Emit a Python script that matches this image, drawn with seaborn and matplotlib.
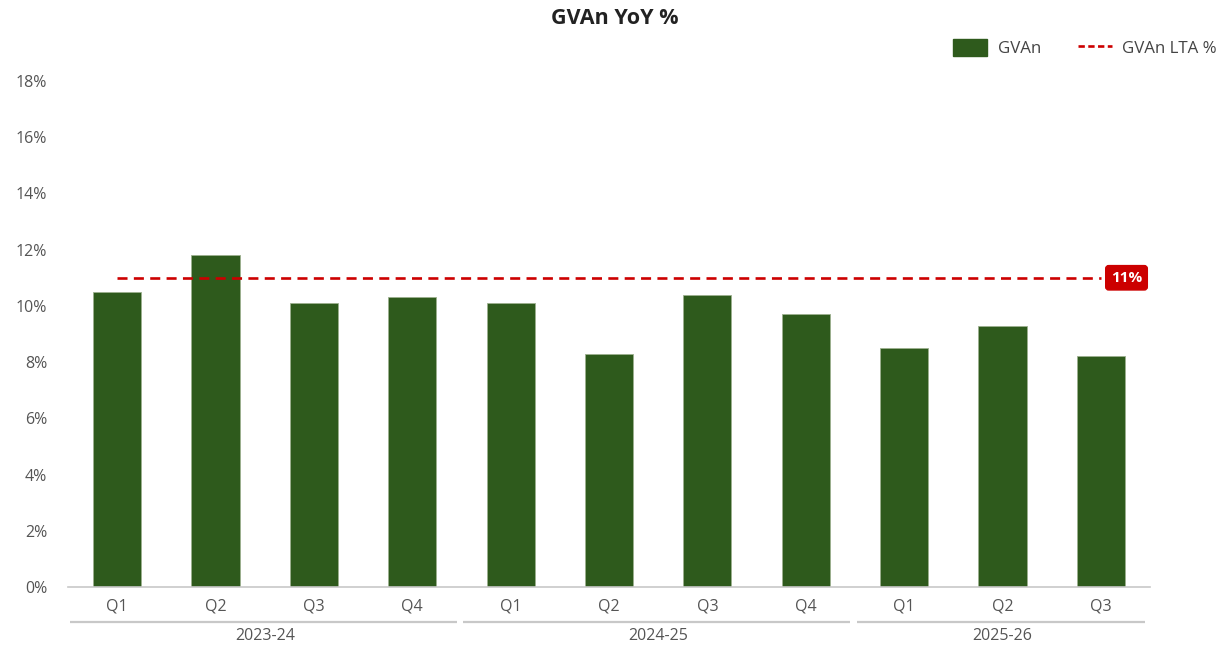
import matplotlib
matplotlib.use("Agg")
import matplotlib.pyplot as plt
import matplotlib.transforms as mtransforms
from matplotlib.lines import Line2D
from matplotlib.patches import Patch
import seaborn as sns
import pandas as pd

# Quarterly nominal GVA growth, year on year (%)
years = ["2023-24", "2024-25", "2025-26"]
quarters = ["Q1", "Q2", "Q3", "Q4", "Q1", "Q2", "Q3", "Q4", "Q1", "Q2", "Q3"]
fiscal_year = ["2023-24"] * 4 + ["2024-25"] * 4 + ["2025-26"] * 3
gvan_yoy = [10.5, 11.8, 10.1, 10.3, 10.1, 8.3, 10.4, 9.7, 8.5, 9.3, 8.2]
lta_pct = 11.0
y_ticks = [0, 2, 4, 6, 8, 10, 12, 14, 16, 18]

sns.set_theme(style="white")
plt.rcParams["font.family"] = ["Open Sans", "DejaVu Sans"]

df = pd.DataFrame({
    "period": [f"{y} {q}" for y, q in zip(fiscal_year, quarters)],
    "year": fiscal_year,
    "quarter": quarters,
    "gvan": gvan_yoy,
})

fig = plt.figure(figsize=(12.29, 6.57), dpi=100)
W, H = 1229, 657
ax = fig.add_axes([68 / W, 1 - 587 / H, (1150 - 68) / W, (587 - 81) / H])

bar_color = "#2E5A1C"
sns.barplot(data=df, x="period", y="gvan", color=bar_color, width=0.49,
            edgecolor="#9DB08F", linewidth=0.6, saturation=1, ax=ax)

n = len(df)
tick_fs = 11.5
ax.set_xlim(-0.5, n - 0.5)
ax.set_ylim(0, 18)
ax.set_yticks(y_ticks)
ax.set_yticklabels([f"{t}%" for t in y_ticks], color="#555555", fontsize=tick_fs)
ax.tick_params(axis="y", length=0, pad=15)
ax.set_xticks(range(n))
ax.set_xticklabels(df["quarter"], color="#555555", fontsize=tick_fs)
ax.tick_params(axis="x", length=0, pad=8)
ax.set_xlabel("")
ax.set_ylabel("")
for side in ["top", "right", "left"]:
    ax.spines[side].set_visible(False)
ax.spines["bottom"].set_color("#C8C8C8")
ax.spines["bottom"].set_linewidth(1.2)

# Long-term average line with its value badge
ax.plot([0, n - 1], [lta_pct, lta_pct], color="#CC0000", linewidth=1.9,
        linestyle=(0, (3.8, 2.4)), zorder=4)
ax.annotate(f"{lta_pct:.0f}%", xy=(n - 1, lta_pct), xytext=(18.5, 0),
            textcoords="offset points", ha="center", va="center",
            color="white", fontsize=11, fontweight="bold", zorder=5,
            bbox=dict(boxstyle="round,pad=0.34,rounding_size=0.2",
                      fc="#CC0000", ec="#CC0000"))

# Fiscal-year group underlines and labels
trans = mtransforms.blended_transform_factory(ax.transData, ax.transAxes)
axis_px = 587 - 81
line_y = -(622 - 587) / axis_px
label_y = -(636 - 587) / axis_px
for yr in years:
    idx = df.index[df["year"] == yr]
    x0, x1 = idx.min() - 0.48, idx.max() + 0.45
    ax.plot([x0, x1], [line_y, line_y], color="#C8C8C8", linewidth=1.6,
            transform=trans, clip_on=False, solid_capstyle="butt")
    ax.text((idx.min() + idx.max()) / 2, label_y, yr, transform=trans,
            ha="center", va="center", fontsize=tick_fs, color="#555555")

fig.suptitle("GVAn YoY %", x=0.5, y=1 - 18 / H, va="center",
             fontsize=15.5, fontweight="bold", color="#222222")

handles = [
    Patch(facecolor=bar_color, edgecolor=bar_color, label="GVAn"),
    Line2D([0], [0], color="#CC0000", linewidth=1.9,
           linestyle=(0, (2.4, 1.3)), label="GVAn LTA %"),
]
fig.legend(handles=handles, loc="center right", ncol=2, frameon=False,
           bbox_to_anchor=(1232 / W, 1 - 48 / H), fontsize=12.2,
           handlelength=2.0, handleheight=1.2, columnspacing=2.2,
           handletextpad=0.6, labelcolor="#444444")

fig.savefig("out.png", dpi=100, facecolor="white")
